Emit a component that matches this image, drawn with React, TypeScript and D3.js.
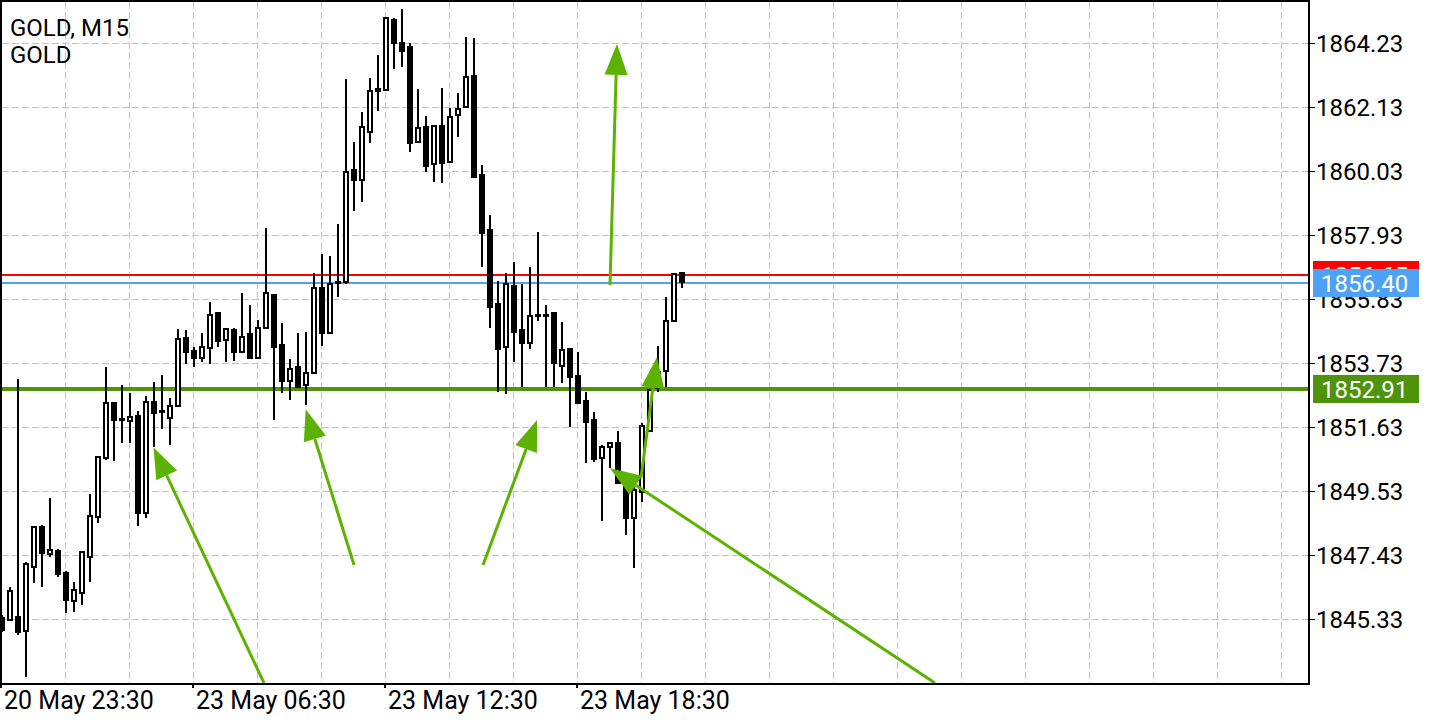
import React from "react";
import * as d3 from "d3";

const W = 1440;
const H = 720;

// ---- data ----
const priceTicks = [1864.23, 1862.13, 1860.03, 1857.93, 1855.83, 1853.73, 1851.63, 1849.53, 1847.43, 1845.33];
const timeLabels = ["20 May 23:30", "23 May 06:30", "23 May 12:30", "23 May 18:30"];
const timeLabelIndex = [0, 24, 48, 72];

const opens = [
  1845.36, 1845.30, 1845.39, 1844.94, 1847.04, 1848.35, 1847.46, 1847.56, 1846.84, 1845.92,
  1846.18, 1847.36, 1848.68, 1850.61, 1852.42, 1851.89, 1851.83, 1851.99, 1848.81, 1852.45,
  1852.16, 1851.93, 1852.32, 1854.55, 1854.12, 1853.89, 1854.22, 1855.37, 1854.48, 1854.81,
  1854.09, 1854.68, 1853.89, 1854.88, 1855.96, 1854.32, 1853.14, 1853.60, 1853.01, 1853.40,
  1856.19, 1854.71, 1856.39, 1856.39, 1860.06, 1859.73, 1861.31, 1862.65, 1862.69, 1864.98,
  1864.23, 1864.10, 1860.98, 1861.47, 1860.26, 1861.51, 1860.33, 1861.87, 1862.13, 1863.15,
  1859.90, 1858.09, 1855.67, 1854.26, 1856.26, 1854.81, 1854.39, 1855.27, 1855.31, 1855.37,
  1853.63, 1854.19, 1853.30, 1852.48, 1851.86, 1850.61, 1850.97, 1851.10, 1849.89, 1848.64,
  1849.50, 1851.50, 1852.91, 1853.47, 1855.11, 1856.68,
];
const highs = [
  1845.46, 1846.38, 1853.20, 1847.20, 1848.38, 1848.41, 1849.30, 1847.63, 1846.91, 1846.54,
  1847.56, 1849.43, 1850.68, 1853.60, 1852.45, 1853.01, 1852.75, 1852.16, 1852.65, 1853.11,
  1853.34, 1852.58, 1854.85, 1854.81, 1854.26, 1854.71, 1855.73, 1855.40, 1854.85, 1854.88,
  1856.03, 1855.63, 1855.14, 1858.16, 1855.99, 1855.04, 1853.86, 1854.71, 1854.75, 1856.68,
  1857.31, 1857.24, 1858.29, 1863.05, 1860.98, 1861.97, 1863.08, 1863.84, 1865.08, 1865.05,
  1865.35, 1864.23, 1862.72, 1861.83, 1861.54, 1862.75, 1862.10, 1862.59, 1864.43, 1864.39,
  1860.23, 1858.59, 1856.42, 1856.68, 1857.04, 1856.32, 1856.88, 1858.03, 1855.63, 1855.40,
  1855.08, 1854.22, 1854.09, 1852.78, 1852.12, 1851.04, 1851.13, 1851.50, 1849.96, 1849.79,
  1851.76, 1852.87, 1854.29, 1855.90, 1856.68, 1856.71,
];
const lows = [
  1844.90, 1845.26, 1844.80, 1843.43, 1846.51, 1846.38, 1847.36, 1846.71, 1845.52, 1845.56,
  1845.79, 1846.54, 1848.48, 1850.55, 1850.51, 1851.10, 1851.10, 1848.38, 1848.64, 1850.97,
  1851.56, 1851.04, 1852.30, 1853.70, 1853.60, 1853.76, 1853.70, 1854.26, 1853.76, 1853.80,
  1854.06, 1853.86, 1853.86, 1854.85, 1851.86, 1852.75, 1852.52, 1852.91, 1852.35, 1853.37,
  1854.29, 1854.68, 1855.90, 1856.32, 1858.72, 1859.01, 1860.95, 1862.00, 1862.66, 1863.38,
  1863.44, 1860.65, 1860.95, 1860.00, 1859.67, 1859.64, 1860.30, 1861.15, 1862.10, 1859.80,
  1856.88, 1854.88, 1852.78, 1852.71, 1853.76, 1852.94, 1854.19, 1855.11, 1852.94, 1852.94,
  1853.07, 1851.63, 1852.40, 1850.45, 1850.48, 1848.55, 1850.28, 1849.76, 1848.09, 1847.00,
  1849.17, 1851.47, 1852.78, 1852.94, 1855.08, 1856.19,
];
const closes = [
  1844.97, 1846.25, 1844.90, 1847.13, 1848.35, 1847.50, 1847.59, 1846.81, 1845.95, 1846.28,
  1847.53, 1848.71, 1850.65, 1852.42, 1851.86, 1851.86, 1851.96, 1848.81, 1852.45, 1852.09,
  1852.12, 1852.32, 1854.52, 1854.09, 1853.89, 1854.26, 1855.31, 1854.45, 1854.85, 1854.09,
  1854.58, 1853.89, 1854.88, 1856.03, 1854.26, 1853.14, 1853.53, 1852.94, 1853.40, 1856.19,
  1854.71, 1856.32, 1856.36, 1860.00, 1859.73, 1861.47, 1862.65, 1862.72, 1865.05, 1864.23,
  1863.97, 1860.95, 1861.44, 1860.19, 1861.51, 1860.29, 1861.80, 1862.06, 1863.11, 1859.83,
  1858.00, 1855.57, 1854.19, 1856.32, 1854.75, 1854.39, 1855.27, 1855.31, 1855.27, 1853.73,
  1854.16, 1853.27, 1852.42, 1851.79, 1850.58, 1850.97, 1851.10, 1849.79, 1848.64, 1849.56,
  1851.66, 1852.84, 1853.43, 1855.11, 1856.65, 1856.40,
];

// horizontal price levels: ask, bid, user line
const levelPrices = [1856.65, 1856.40, 1852.91];
const levelLabels = ["1856.65", "1856.40", "1852.91"];

// arrows drawn on the chart (candle index, price)
const arrowFromIdx = [32.75, 44.0, 60.125, 76.0, 116.625, 79.875];
const arrowFromPrice = [1843.23, 1847.10, 1847.10, 1856.29, 1843.23, 1849.96];
const arrowToIdx = [18.94, 37.96, 66.875, 76.875, 76.0, 81.875];
const arrowToPrice = [1850.96, 1852.21, 1851.86, 1864.20, 1850.28, 1853.93];

// ---- layout ----
const plotL = 1;
const plotT = 1;
const plotR = 1309;
const plotB = 684;
const FONT = "Roboto, 'Noto Sans', sans-serif";
const levelColors = ["#ff0000", "#4da2f6", "#4e930a"];
const levelWidths = [2, 2, 4];
const arrowColor = "#5cb200";

export default function App() {
  const x = d3.scaleLinear().domain([0, 1]).range([2, 10]);
  const y = d3.scaleLinear().domain([1845.33, 1864.23]).range([619, 43]);

  const gridXs: number[] = [];
  for (let i = 8; x(i) - 1 < plotR - 10; i += 8) gridXs.push(x(i) - 1);

  const candles = opens.map((o, i) => ({ o, h: highs[i], l: lows[i], c: closes[i], i }));

  const arrows = arrowFromIdx.map((fi, k) => {
    const x1 = x(fi), y1 = y(arrowFromPrice[k]);
    const x2 = x(arrowToIdx[k]), y2 = y(arrowToPrice[k]);
    const dx = x2 - x1, dy = y2 - y1;
    const len = Math.hypot(dx, dy);
    const ux = dx / len, uy = dy / len;
    const hl = 31, hw = 11.5;
    const bx = x2 - ux * hl, by = y2 - uy * hl;
    const p1 = [bx - uy * hw, by + ux * hw];
    const p2 = [bx + uy * hw, by - ux * hw];
    return { x1, y1, bx, by, head: `${x2},${y2} ${p1[0]},${p1[1]} ${p2[0]},${p2[1]}` };
  });

  return (
    <div style={{ position: "absolute", left: 0, top: 0, width: W, height: H, background: "#fff" }}>
      <svg width={W} height={H} style={{ display: "block", fontFamily: FONT }}>
        <defs>
          <clipPath id="plot">
            <rect x={plotL + 1} y={plotT + 1} width={plotR - plotL - 2} height={plotB - plotT - 2} />
          </clipPath>
        </defs>
        <rect x={0} y={0} width={W} height={H} fill="#fff" />

        {/* grid */}
        <g stroke="#c4c4c4" strokeWidth={1} strokeDasharray="7 3" shapeRendering="crispEdges">
          {priceTicks.map((p) => (
            <line key={"h" + p} x1={plotL + 1} x2={plotR} y1={Math.round(y(p)) + 0.5} y2={Math.round(y(p)) + 0.5} />
          ))}
          {gridXs.map((gx) => (
            <line key={"v" + gx} x1={gx + 0.5} x2={gx + 0.5} y1={plotT + 1} y2={plotB} />
          ))}
        </g>

        <g clipPath="url(#plot)">
          {/* level lines */}
          {levelPrices.map((p, k) => (
            <rect key={"lv" + k} x={plotL} y={Math.round(y(p)) + 1 - levelWidths[k] / 2} width={plotR - plotL} height={levelWidths[k]} fill={levelColors[k]} />
          ))}

          {/* candles */}
          {candles.map((d) => {
            const cx = Math.round(x(d.i));
            const top = Math.round(y(Math.max(d.o, d.c)));
            const bot = Math.round(y(Math.min(d.o, d.c)));
            const bull = d.c > d.o;
            return (
              <g key={d.i} shapeRendering="crispEdges">
                <rect x={cx - 1} y={Math.round(y(d.h))} width={2} height={Math.max(1, Math.round(y(d.l)) - Math.round(y(d.h)))} fill="#000" />
                {bull ? (
                  <rect x={cx - 2} y={top} width={4} height={Math.max(1, bot - top)} fill="#fff" stroke="#000" strokeWidth={2} />
                ) : (
                  <rect x={cx - 3} y={top - 1} width={6} height={Math.max(2, bot - top + 2)} fill="#000" />
                )}
              </g>
            );
          })}

          {/* arrows */}
          {arrows.map((a, k) => (
            <g key={"a" + k}>
              <line x1={a.x1} y1={a.y1} x2={a.bx} y2={a.by} stroke={arrowColor} strokeWidth={3} />
              <polygon points={a.head} fill={arrowColor} />
            </g>
          ))}
        </g>

        {/* frame */}
        <rect x={plotL} y={plotT} width={plotR - plotL} height={plotB - plotT} fill="none" stroke="#000" strokeWidth={2} shapeRendering="crispEdges" />

        {/* right axis */}
        {priceTicks.map((p) => (
          <g key={"yt" + p}>
            <rect x={plotR + 1} y={Math.round(y(p))} width={5} height={1} fill="#000" />
            <text x={1316} y={y(p) + 8.5} fontSize={24} fill="#000">{p.toFixed(2)}</text>
          </g>
        ))}

        {/* bottom axis */}
        {timeLabelIndex.map((ti, k) => (
          <g key={"xt" + ti}>
            <rect x={x(ti) - 2} y={plotB} width={2} height={4} fill="#000" />
            <text x={x(ti) + 2} y={709} fontSize={25} fill="#000">{timeLabels[k]}</text>
          </g>
        ))}

        {/* level labels */}
        {levelPrices.map((p, k) => (
          <g key={"ll" + k}>
            <rect x={1313} y={Math.round(y(p)) + 1 - 14} width={106} height={28} fill={levelColors[k]} />
            <text x={1321} y={Math.round(y(p)) + 1 + 8.5} fontSize={24} fill="#fff">{levelLabels[k]}</text>
          </g>
        ))}

        {/* title */}
        <text x={10} y={36} fontSize={24} fill="#000">GOLD, M15</text>
        <text x={10} y={63} fontSize={24} fill="#000">GOLD</text>
      </svg>
    </div>
  );
}
